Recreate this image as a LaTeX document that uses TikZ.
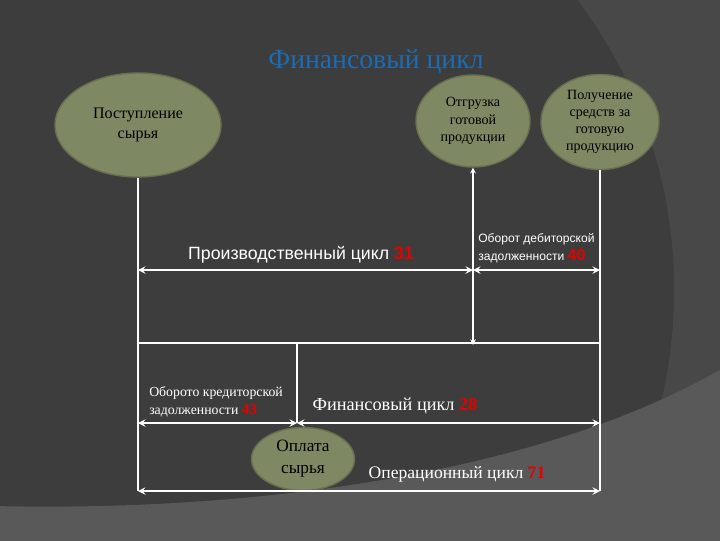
\documentclass[tikz,border=0pt]{standalone}
\usepackage{fontspec}
\setmainfont{Liberation Serif}
\setsansfont{Liberation Sans}
\usepackage{tikz}
\usetikzlibrary{shapes,arrows,positioning}

\definecolor{BgDark}{RGB}{61,61,61}
\definecolor{BgMid}{RGB}{72,72,72}
\definecolor{BgLight}{RGB}{89,89,89}
\definecolor{EventFill}{RGB}{126,136,99}
\definecolor{EventEdge}{RGB}{104,112,80}
\definecolor{TitleBlue}{RGB}{28,108,180}
\definecolor{NumRed}{RGB}{230,0,0}
\newcommand{\cyclenum}[1]{\textcolor{NumRed}{\textbf{#1}}}

\begin{document}
\begin{tikzpicture}[x=0.025cm, y=-0.025cm]
			\tikzstyle{Event} 	= [ellipse, draw=EventEdge, line width=1pt, fill=EventFill, inner sep=0pt, align=center, text=black]
			\tikzstyle{Span}	= [<->, >=stealth, white, line width=1.3pt]
			\tikzstyle{Rule}	= [white, line width=0.8pt]
			\tikzstyle{Label}	= [white, inner sep=0pt, align=left]

			% background
			\useasboundingbox (0,0) rectangle (720,540);
			\begin{scope}
				\clip (0,0) rectangle (720,540);
				\fill[BgDark] (-5,-5) rectangle (725,545);
				\fill[BgMid, even odd rule] (-5,-5) rectangle (725,545) (190,290) circle [radius=12.1cm];
				\fill[BgLight] (-5,506) .. controls (250,512) and (540,475) .. (725,367) -- (725,545) -- (-5,545) -- cycle;
			\end{scope}

			\node (title) at (376,62) [text=TitleBlue, font=\fontsize{19.7}{22}\selectfont] {Финансовый цикл};

			\node (raw) at (138,125) [Event, minimum width=4.15cm, minimum height=2.6cm, font=\fontsize{11.4}{14}\selectfont] {Поступление\\сырья};
			\node (ship) at (473,121) [Event, minimum width=2.85cm, minimum height=2.3cm, font=\fontsize{10}{12.4}\selectfont] {Отгрузка\\готовой\\продукции};
			\node (cash) at (600,122) [Event, minimum width=2.95cm, minimum height=2.375cm, font=\fontsize{10}{12}\selectfont] {Получение\\средств за\\готовую\\продукцию};
			\node (pay) at (303,459) [Event, minimum width=2.575cm, minimum height=1.575cm, font=\fontsize{12.3}{15.6}\selectfont] {Оплата\\сырья};

			\coordinate (a1) at (138,270);
			\coordinate (a2) at (473,270);
			\coordinate (a3) at (600,270);
			\coordinate (b1) at (138,343);
			\coordinate (b2) at (473,345);
			\coordinate (b3) at (600,343);
			\coordinate (c0) at (297,343);
			\coordinate (c1) at (138,423);
			\coordinate (c2) at (297,423);
			\coordinate (c3) at (600,423);
			\coordinate (d1) at (138,491);
			\coordinate (d3) at (600,491);

			\draw (raw.south) to (d1) [Rule];
			\draw (cash.south) to (d3) [Rule];
			\draw (b1) to (b3) [Rule];
			\draw (c0) to (c2) [Rule];
			\draw [<->, >=stealth] (ship.south) to (b2) [Rule];

			\draw (a1) to (a2) [Span];
			\draw (a2) to (a3) [Span];
			\draw (c1) to (c2) [Span];
			\draw (c2) to (c3) [Span];
			\draw (d1) to (d3) [Span];

			\node (prodlbl) at (301,255) [Label, font=\sffamily\fontsize{12.6}{15}\selectfont] {Производственный цикл \cyclenum{31}};
			\node (debtlbl) at (478,248) [Label, anchor=west, font=\sffamily\fontsize{8.6}{12.8}\selectfont] {Оборот дебиторской\\задолженности {\fontsize{11.5}{12.8}\selectfont\cyclenum{40}}};
			\node (credlbl) at (149,402) [Label, anchor=west, font=\fontsize{9.8}{13.3}\selectfont] {Оборото кредиторской\\задолженности {\fontsize{10.8}{13.3}\selectfont\cyclenum{43}}};
			\node (finlbl) at (395,406) [Label, font=\fontsize{13}{15}\selectfont] {Финансовый цикл \cyclenum{28}};
			\node (operlbl) at (457,474) [Label, font=\fontsize{12.5}{15}\selectfont] {Операционный цикл \cyclenum{71}};
		\end{tikzpicture}
\end{document}
